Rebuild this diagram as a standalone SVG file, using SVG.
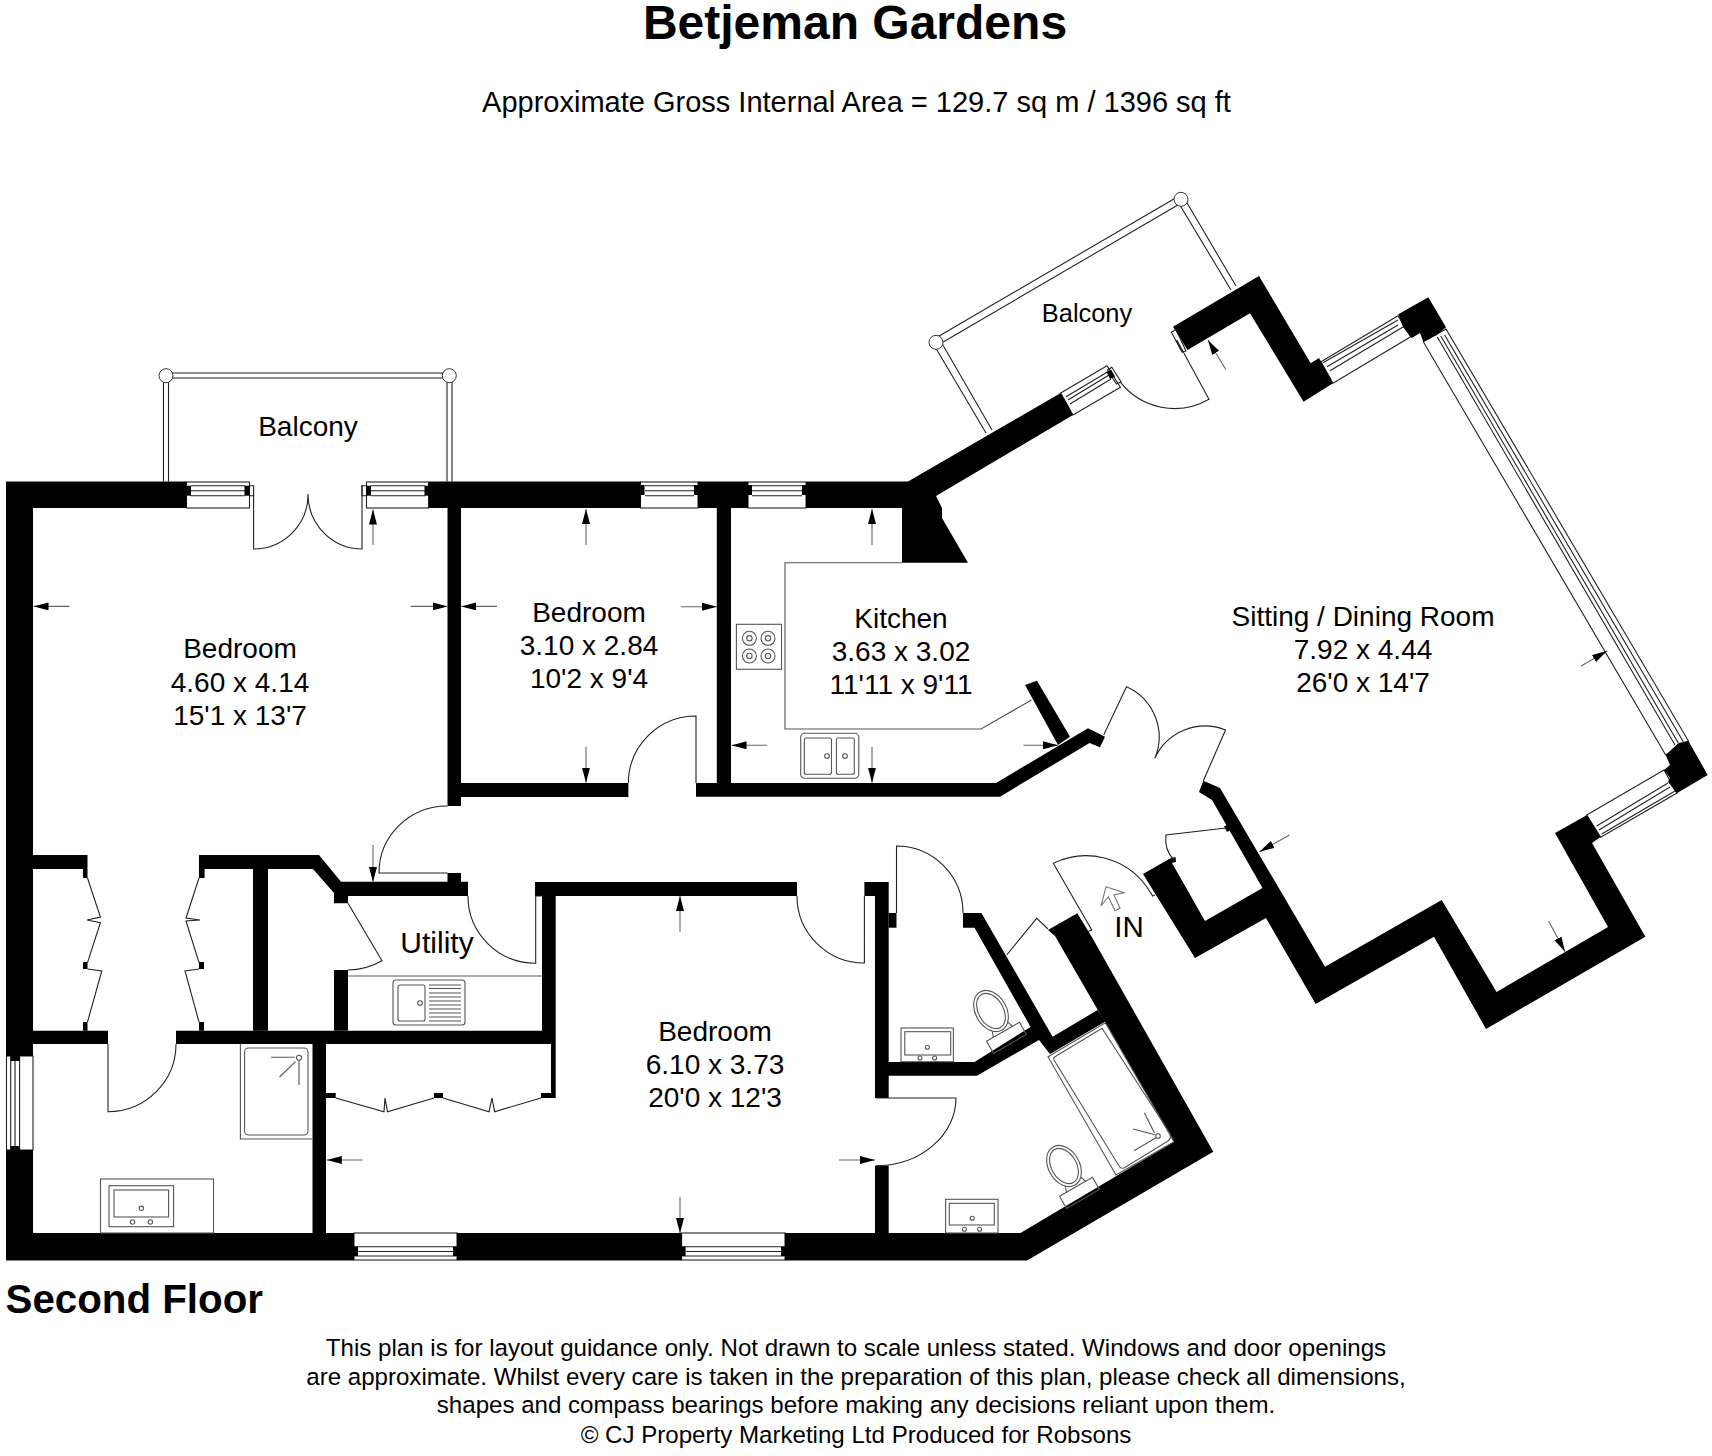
<svg xmlns="http://www.w3.org/2000/svg" width="1712" height="1456" viewBox="0 0 1712 1456">
<style>
text{font-family:"Liberation Sans",Arial,sans-serif;fill:#000;text-anchor:middle}
.t{font-size:28px}
.b{font-weight:bold}
.w{fill:#000;stroke:none}
.l{fill:none;stroke:#222;stroke-width:1.1}
.f{fill:#fff;stroke:#222;stroke-width:1.1}
.g{fill:none;stroke:#555;stroke-width:1.1}
.d{stroke:#666;stroke-width:1.1;fill:none;marker-end:url(#arr)}
.n{fill:#fff;stroke:#333;stroke-width:1}
</style>
<defs>
<marker id="arr" markerUnits="userSpaceOnUse" markerWidth="15" markerHeight="8" refX="15" refY="4" orient="auto"><path d="M0 0L15 4L0 8Z" fill="#000"/></marker>
<g id="toilet"><ellipse cx="0" cy="0" rx="15.500" ry="22" class="g"/><ellipse cx="0" cy="0" rx="12.500" ry="19" class="g"/><path class="g" d="M-9 18L-11 24M9 18L11 24"/><path class="g" d="M-19 24H19V38H-19Z"/></g>
</defs>
<rect width="1712" height="1456" fill="#fff"/>
<g id="titles">
<text class="b" x="855" y="39" font-size="48">Betjeman Gardens</text>
<text x="856.500" y="112" font-size="29">Approximate Gross Internal Area = 129.7 sq m / 1396 sq ft</text>
<text class="b" x="5.500" y="1313" font-size="40.300" style="text-anchor:start">Second Floor</text>
<text x="856" y="1356" font-size="24.100">This plan is for layout guidance only. Not drawn to scale unless stated. Windows and door openings</text>
<text x="856" y="1385" font-size="24.100">are approximate. Whilst every care is taken in the preparation of this plan, please check all dimensions,</text>
<text x="856" y="1413" font-size="24.100">shapes and compass bearings before making any decisions reliant upon them.</text>
<text x="856" y="1443" font-size="24.100">© CJ Property Marketing Ltd Produced for Robsons</text>
</g>
<g id="balconies">
<path class="l" d="M163.500 375V481.500M168.500 375V481.500M447 375V481.500M452 375V481.500M166 373H449M166 378H449"/>
<circle class="n" cx="166" cy="375.700" r="7"/><circle class="n" cx="449.300" cy="375.700" r="7"/>
<path class="l" d="M938 345L1183 202M934 339L1179 196M1183 196L1236 286M1178 202L1231 290M940 340L992 430M934 345L986 433"/>
<circle class="n" cx="1181" cy="199.300" r="7"/><circle class="n" cx="936" cy="342.300" r="7"/>
</g>
<g id="windows">
<rect class="f" x="186.500" y="482" width="63" height="26"/><rect class="f" x="366.500" y="482" width="62" height="26"/><rect class="f" x="640.500" y="482" width="57.500" height="26"/><rect class="f" x="748" y="482" width="58" height="26"/>
<path class="l" d="M191 485.700H245M191 490.700H245M191 495.700H245M371 485.700H425M371 490.700H425M371 495.700H425M645 485.700H694M645 490.700H694M645 495.700H694M752 485.700H802M752 490.700H802M752 495.700H802M249.500 485.700H253.600V495.700H249.500M366.500 485.700H362V495.700H366.500"/>
<rect class="w" x="186.500" y="485.700" width="4.500" height="10"/><rect class="w" x="244.500" y="485.700" width="5" height="10"/><rect class="w" x="366.500" y="485.700" width="4.500" height="10"/><rect class="w" x="424.500" y="485.700" width="4.500" height="10"/>
<rect class="w" x="640.500" y="485" width="4" height="10"/><rect class="w" x="694" y="485" width="4" height="10"/><rect class="w" x="748" y="485" width="4" height="10"/><rect class="w" x="802" y="485" width="4" height="10"/>
<rect class="f" x="354" y="1233" width="103" height="27"/><rect class="f" x="681.600" y="1233" width="103.400" height="27"/>
<path class="l" d="M354 1246.700H457M358 1251.500H453M354 1256H457M681.600 1246.700H785M686 1251.500H781M681.600 1256H785"/>
<rect class="w" x="354" y="1246.700" width="4" height="9.300"/><rect class="w" x="453" y="1246.700" width="4" height="9.300"/><rect class="w" x="681.600" y="1246.700" width="4" height="9.300"/><rect class="w" x="781" y="1246.700" width="4" height="9.300"/>
<rect class="f" x="6.500" y="1056" width="26.500" height="94"/>
<path class="l" d="M10.700 1056V1150M15 1056V1150M19.600 1056V1150"/>
<rect class="w" x="10.700" y="1056" width="9" height="5"/><rect class="w" x="10.700" y="1146" width="9" height="4"/>
<path class="f" d="M1060.700 393L1107 365.700L1120.400 387.300L1073 415Z"/>
<path class="l" d="M1066 396.700L1107.900 371.700M1068 400L1109 375M1070 404L1111 379M1111.800 367.300L1121 381.700L1116.500 384L1107.500 370Z"/>
<path class="w" d="M1106.500 372L1111 369.500L1115 376.500L1110 379Z"/>
<path class="f" d="M1321 361.700L1398 315.700L1410.700 336.700L1333 383.300Z"/>
<path class="l" d="M1323 362.700L1398 320M1327 366.700L1398 325M1330 370.700L1403 327"/>
<path class="f" d="M1423.300 341.700L1446 329L1688.300 740.700L1665.700 755Z"/>
<path class="l" d="M1437.300 337L1675 745M1440.800 336L1678.300 743M1444.600 335L1683.300 741.700"/>
<path class="f" d="M1586.700 815L1664 770L1677 793L1600.700 837.300Z"/>
<path class="l" d="M1596.700 826L1668 783M1599 830L1670 787M1601.700 834L1675 791"/>
</g>
<g id="walls">
<path class="w" d="M6 481.500H186.500V508H33V1056H6ZM6 1150H33V1233H354V1260.500H6Z"/>
<path class="w" d="M429 481.500H640.500V508H461V806H447.500V508H429Z"/>
<rect class="w" x="698" y="481.500" width="50" height="26.500"/>
<path class="w" d="M806 481.500H908L1060.700 393L1073 415L936 496L942 508V518L968 562.700H902V508H806Z"/>
<rect class="w" x="716.800" y="508" width="14.200" height="275"/>
<path class="w" d="M461 783H628.400V797H461ZM696 783H996L1088 728.300L1105 736.700L1100 747.300L1089.500 743L1000 796.700H696Z"/>
<path class="w" d="M1025 685L1037 680.700L1070 736.700L1058 745Z"/>
<path class="w" d="M1173 326.700L1259 276L1310.700 363.300L1319 358L1333 383.300L1303.600 401.700L1250 313.300L1187.500 350Z"/>
<path class="w" d="M1398.300 314.300L1428.300 297.300L1446 327.300L1436.700 335L1423.300 341.700L1420 333L1411.700 338L1403 327Z"/>
<path class="w" d="M1665.700 755L1678.300 743.300L1688.300 740.700L1707.700 775L1676.700 793.300L1668 781.700L1670 778L1664 770L1670 765Z"/>
<path class="w" d="M1555 833L1587 815L1600.500 837L1592 843L1645.400 936.700L1486 1029L1434 936.700L1315.700 1004L1266 918L1195 958L1143 874L1170 858.500L1175.500 857L1176 861.700L1172 863L1205 921L1262.500 888L1212 800L1199 792L1203.400 780.700L1220 788L1325 966.700L1441.700 900L1496.600 992L1608 927Z"/>
<path class="w" d="M33 855H87.500V878H83V869H33ZM199 855H319L341 881.700H468V896H348V903.300H334V893L313 869H268V1030.700H253V869H204.600V878H199ZM447.500 873H461V881.700H447.500Z"/>
<path class="w" d="M6 1030.700H108V1044H6ZM176 1030.700H555.700V1098H541V1093H551V1044H176Z"/>
<rect class="w" x="334" y="970" width="14" height="60.700"/>
<path class="w" d="M535 882H797V896H555.700V1031H542V896H535ZM864.400 882H888.700V1062H974.500L1030.600 1027L974.500 927.700H963V913H981.400L1052.600 1036.700L1097.600 1010L1105 1021.700L1050 1054L1039 1040L977 1075.700H888.700V1098H875V896H864.400Z"/>
<rect class="w" x="888.700" y="913" width="7.800" height="14.700"/>
<rect class="w" x="875" y="1165.700" width="13.700" height="67.300"/>
<rect class="w" x="312.500" y="1044" width="13.500" height="189"/>
<path class="w" d="M326 1093H335.700V1098H326ZM434 1093H443V1098H434Z"/>
<path class="w" d="M457 1233H681.600V1260.500H457ZM785 1233H1020.500L1174 1141.700L1055 936L1048 930L1077.300 913.300L1091.700 936.700L1213.300 1151.700L1027 1260.500H785Z"/>
<path class="w" d="M83 962H87.500V969H83ZM83 1022H87.500V1030.700H83ZM199 962H204V969H199ZM199 1022H204V1030.700H199Z"/>
<path class="w" d="M1224 826.500L1227 832L1231 830L1228 824.500Z"/>
</g>
<g id="doors">
<path class="l" d="M253.600 494V549A54.400 54.400 0 0 0 308 494A54 55 0 0 0 362 549V485"/>
<path class="l" d="M447.500 873H379A68 67 0 0 1 447.500 806"/>
<path class="l" d="M696 783V716A67.600 67 0 0 0 628.400 783"/>
<path class="l" d="M797 896A67.400 67 0 0 0 864.400 963V896"/>
<path class="l" d="M468 896A67.700 67 0 0 0 535.700 963.300V896H542"/>
<path class="l" d="M896.500 913V846A66.500 67 0 0 1 963 913"/>
<path class="l" d="M876 1098H956A80 67.700 0 0 1 876 1165.700"/>
<path class="l" d="M108 1044V1111.700A68 67.700 0 0 0 176 1044"/>
<path class="l" d="M348 903.300L382 960.700A70 70 0 0 1 348 970"/>
<path class="l" d="M1091.700 930L1053.300 863.300A75 75 0 0 1 1146.700 886.700M1146.700 886.700L1152.700 896L1155 895M1088 931.500L1091.700 930L1089 925"/>
<path class="l" d="M1006.700 955L1036.700 918.300L1048 929"/>
<path class="l" d="M1120 381.700A69 69 0 0 0 1209 399.300L1176.800 340M1171.400 332.300L1176 329.600L1186 351L1182 352Z"/>
<path class="l" d="M1103.700 735L1126.500 686.700A55 55 0 0 1 1154.800 758.300A55 55 0 0 1 1225.500 730L1203.400 780.700"/>
<path class="l" d="M1226 828L1166 835A30 30 0 0 0 1174 860"/>
</g>
<g id="wardrobes">
<path class="l" d="M87.500 878L100.400 917L87 920L100.400 922.700L87.500 962.700M87.500 969L101.800 971L87.500 1022M199 878L186 918L200 920L186 921L199 962.700M199 969L185 971L199 1022"/>
<path class="l" d="M335.700 1098L384 1111.700L385 1098L387.500 1111.700L434 1098M443 1098L489 1111.700L492 1098L494.600 1111.700L541 1098"/>
</g>
<g id="fittings">
<path class="g" d="M348 976H542"/>
<rect class="g" x="393" y="980" width="72" height="45" rx="3"/>
<rect class="g" x="398" y="985" width="27" height="36" rx="2"/>
<circle class="g" cx="420" cy="1003" r="2.300"/>
<path class="g" d="M429 985H461M429 988.500H461M429 993H461M429 997H461M429 1001H461M429 1005H461M429 1009H461M429 1013H461M429 1017H461M429 1021H461"/>
<path class="g" d="M240.400 1044V1139H312.500"/>
<rect class="g" x="244.600" y="1048" width="63.400" height="87" rx="4"/>
<circle class="g" cx="299" cy="1057.700" r="2.500"/>
<path class="g" d="M271 1057.300H294.600M299 1060V1085M295.400 1061.700L279.600 1077"/>
<rect class="g" x="100.500" y="1179" width="113" height="54"/>
<rect class="g" x="109" y="1185.700" width="64.600" height="41"/>
<rect class="g" x="114" y="1190" width="54.600" height="27"/>
<circle class="g" cx="141.400" cy="1208.300" r="2.200"/><circle class="g" cx="132.500" cy="1222" r="2.200"/><circle class="g" cx="150.400" cy="1222" r="2.200"/>
<rect class="g" x="736.400" y="624.300" width="45.100" height="45"/>
<circle class="g" cx="749.400" cy="638.300" r="7"/><circle class="g" cx="749.400" cy="638.300" r="2.700"/><circle class="g" cx="768" cy="638.300" r="7"/><circle class="g" cx="768" cy="638.300" r="2.700"/><circle class="g" cx="749.400" cy="656" r="7"/><circle class="g" cx="749.400" cy="656" r="2.700"/><circle class="g" cx="768" cy="656" r="7"/><circle class="g" cx="768" cy="656" r="2.700"/>
<rect class="g" x="800.700" y="733.300" width="58.100" height="45" rx="4"/>
<rect class="g" x="804.300" y="738" width="27.200" height="36.300" rx="2"/><rect class="g" x="836.400" y="738" width="17.900" height="36.300" rx="2"/>
<circle class="g" cx="827" cy="756" r="2.300"/><circle class="g" cx="845" cy="756" r="2.300"/>
<path class="g" d="M902 562.700H785V729H981L1031.500 700"/>
<rect class="g" x="901" y="1028" width="52.400" height="33.700"/><rect class="g" x="904.800" y="1031.700" width="45.900" height="23.300"/>
<circle class="g" cx="927.300" cy="1047.300" r="2"/><circle class="g" cx="920" cy="1058" r="2"/><circle class="g" cx="934.600" cy="1058" r="2"/>
<rect class="g" x="945.600" y="1199.300" width="52.400" height="33.700"/><rect class="g" x="949.300" y="1203.300" width="45" height="21.700"/>
<circle class="g" cx="972.200" cy="1218.300" r="2"/><circle class="g" cx="964.400" cy="1229.300" r="2"/><circle class="g" cx="979.600" cy="1229.300" r="2"/>
<use href="#toilet" transform="translate(991 1011) rotate(-30)"/>
<use href="#toilet" transform="translate(1064 1166) rotate(-30)"/>
<path class="g" d="M1048 1056.700L1105.400 1022.700L1174 1141.700L1116 1175Z"/>
<path class="g" d="M1055 1056.700L1102 1028.300L1169.700 1133Q1172 1138 1168 1141L1124 1168Q1121 1169 1119 1166L1054 1060Q1053 1058 1055 1056.700Z"/>
<circle class="g" cx="1158" cy="1136" r="2.300"/>
<path class="g" d="M1144.400 1113L1154.500 1133M1133 1129L1155 1134.700M1134 1150.700L1156 1137.700"/>
</g>
<g id="connectors">
<path class="d" d="M373 545V509.500"/><path class="d" d="M69.600 606.400H33.500"/><path class="d" d="M410.700 606.400H447.500"/><path class="d" d="M497 606.400H461.300"/><path class="d" d="M373 845V882"/>
<path class="d" d="M586 545V509"/><path class="d" d="M586 746.700V782.700"/><path class="d" d="M681 606.700H716.800"/><path class="d" d="M872 545V509"/><path class="d" d="M872 746.700V782.700"/><path class="d" d="M767 745.300H731.500"/><path class="d" d="M1023.500 745.300H1058"/>
<path class="d" d="M680 931.700V896"/><path class="d" d="M680 1197V1233"/><path class="d" d="M839 1160H875"/><path class="d" d="M362.500 1160H326.800"/>
<path class="d" d="M1225.700 369.300L1207.900 340"/><path class="d" d="M1289.500 835L1259.600 851.700"/><path class="d" d="M1548.600 921L1565 951.700"/><path class="d" d="M1581 666L1607 651"/>
</g>
<g id="entry"><path d="M1106 886.700L1124 892.700L1114 895L1120 908.300L1115 910.700L1108.300 896.700L1101 906Z" fill="#fff" stroke="#777" stroke-width="1.100"/></g>
<g id="labels">
<g id="balcony-west"><text class="t" x="308" y="436">Balcony</text></g>
<g id="balcony-east"><text x="1087" y="322" font-size="25.400">Balcony</text></g>
<g id="bedroom-main"><text class="t" x="240" y="658">Bedroom</text><text class="t" x="240" y="692">4.60 x 4.14</text><text class="t" x="240" y="725">15'1 x 13'7</text></g>
<g id="bedroom-two"><text class="t" x="589" y="622">Bedroom</text><text class="t" x="589" y="655">3.10 x 2.84</text><text class="t" x="589" y="688">10'2 x 9'4</text></g>
<g id="kitchen"><text class="t" x="901" y="628">Kitchen</text><text class="t" x="901" y="661">3.63 x 3.02</text><text class="t" x="901" y="694">11'11 x 9'11</text></g>
<g id="sitting"><text class="t" x="1363" y="626">Sitting / Dining Room</text><text class="t" x="1363" y="659">7.92 x 4.44</text><text class="t" x="1363" y="692">26'0 x 14'7</text></g>
<g id="bedroom-three"><text class="t" x="715" y="1041">Bedroom</text><text class="t" x="715" y="1074">6.10 x 3.73</text><text class="t" x="715" y="1107">20'0 x 12'3</text></g>
<g id="utility"><text x="437" y="953" font-size="30">Utility</text></g>
<g id="entrance"><text x="1129" y="937" font-size="29.500">IN</text></g>
</g>
</svg>
